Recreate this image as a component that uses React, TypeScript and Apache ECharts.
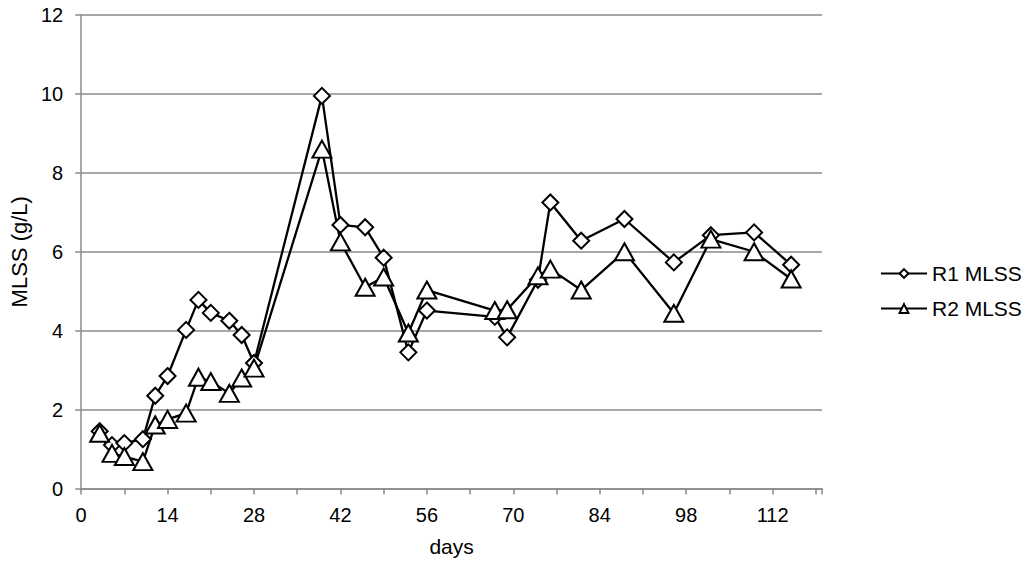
import React, { useEffect, useRef } from "react";
import * as echarts from "echarts";

const days = [3, 5, 7, 10, 12, 14, 17, 19, 21, 24, 26, 28, 39, 42, 46, 49, 53, 56, 67, 69, 74, 76, 81, 88, 96, 102, 109, 115];
const r1Values = [1.45, 1.1, 1.15, 1.25, 2.35, 2.85, 4.02, 4.78, 4.45, 4.25, 3.89, 3.18, 9.95, 6.68, 6.62, 5.85, 3.45, 4.51, 4.35, 3.83, 5.29, 7.25, 6.28, 6.83, 5.73, 6.42, 6.49, 5.67];
const r2Values = [1.4, 0.89, 0.81, 0.68, 1.61, 1.75, 1.91, 2.82, 2.71, 2.41, 2.8, 3.05, 8.6, 6.25, 5.1, 5.36, 3.94, 5.03, 4.51, 4.53, 5.39, 5.56, 5.03, 6.0, 4.44, 6.32, 6.0, 5.31];
const seriesNames = ["R1 MLSS", "R2 MLSS"];
const xAxisTitle = "days";
const yAxisTitle = "MLSS (g/L)";

const FONT = "Liberation Sans, Arial, sans-serif";
const GRAY = "#8a8a8a";

export default function App() {
  const ref = useRef<HTMLDivElement>(null);
  useEffect(() => {
    if (!ref.current) return;
    const chart = echarts.init(ref.current, undefined, { renderer: "svg" });
    const pairs = (vals: number[]) => days.map((d, i) => [d, vals[i]]);
    chart.setOption({
      animation: false,
      backgroundColor: "#ffffff",
      textStyle: { fontFamily: FONT },
      grid: { left: 79, right: 202, top: 15, bottom: 75.5, containLabel: false },
      legend: {
        orient: "vertical",
        left: 875,
        top: 258,
        itemWidth: 46,
        itemHeight: 11,
        itemGap: 14,
        textStyle: { fontSize: 21, color: "#000", fontFamily: FONT, lineHeight: 21 },
        data: seriesNames,
      },
      xAxis: [
        {
          type: "value",
          min: 0,
          max: 120,
          interval: 14,
          name: xAxisTitle,
          nameLocation: "middle",
          nameGap: 47,
          nameTextStyle: { fontSize: 21, color: "#000", fontFamily: FONT },
          axisLine: { show: true, lineStyle: { color: GRAY, width: 1.5 } },
          axisTick: { show: false },
          axisLabel: { fontSize: 20, color: "#000", margin: 16, showMaxLabel: false, fontFamily: FONT },
          splitLine: { show: false },
        },
        {
          type: "value",
          min: 0,
          max: 120,
          interval: 7,
          position: "bottom",
          axisLine: { show: false },
          axisTick: { show: true, length: 6, lineStyle: { color: GRAY, width: 1.5 } },
          axisLabel: { show: false },
          splitLine: { show: false },
        },
      ],
      yAxis: {
        type: "value",
        min: 0,
        max: 12,
        interval: 2,
        name: yAxisTitle,
        nameLocation: "middle",
        nameGap: 50,
        nameTextStyle: { fontSize: 22, color: "#000", fontFamily: FONT },
        axisLine: { show: true, lineStyle: { color: GRAY, width: 1.5 } },
        axisTick: { show: true, length: 6, lineStyle: { color: GRAY, width: 1.5 } },
        axisLabel: { fontSize: 20, color: "#000", margin: 18, fontFamily: FONT },
        splitLine: { show: true, lineStyle: { color: GRAY, width: 1.5 } },
      },
      series: [
        {
          name: seriesNames[0],
          type: "line",
          data: pairs(r1Values),
          symbol: "diamond",
          symbolSize: 16,
          lineStyle: { color: "#000", width: 2.3 },
          itemStyle: { color: "#fff", borderColor: "#000", borderWidth: 2 },
        },
        {
          name: seriesNames[1],
          type: "line",
          data: pairs(r2Values),
          symbol: "triangle",
          symbolSize: [19, 17],
          lineStyle: { color: "#000", width: 2.3 },
          itemStyle: { color: "#fff", borderColor: "#000", borderWidth: 2 },
        },
      ],
    });
    return () => chart.dispose();
  }, []);
  return (
    <div
      ref={ref}
      style={{ position: "fixed", left: 0, top: 0, width: 1024, height: 564, background: "#fff" }}
    />
  );
}
